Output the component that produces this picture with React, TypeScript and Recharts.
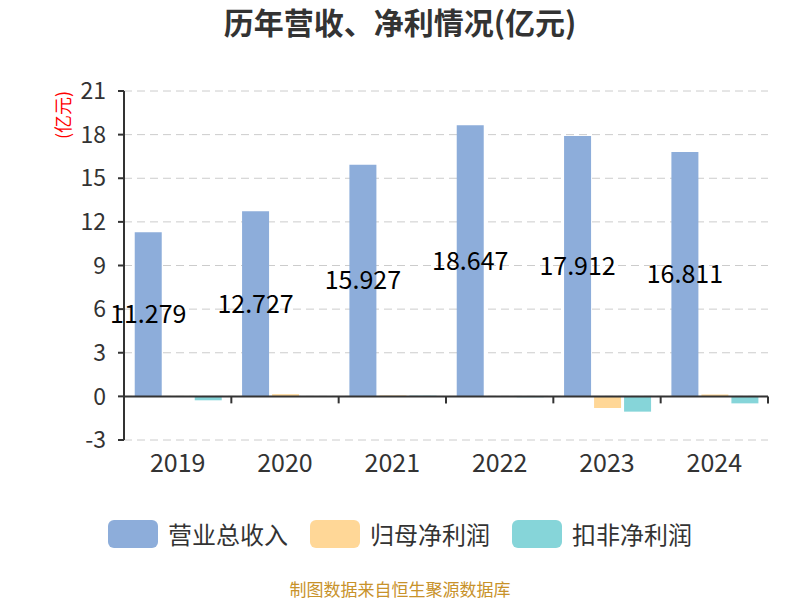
import { BarChart, Bar, XAxis, YAxis, CartesianGrid, ReferenceLine, LabelList } from "recharts";

const years = ["2019", "2020", "2021", "2022", "2023", "2024"];
const revenue = [11.279, 12.727, 15.927, 18.647, 17.912, 16.811];
const netProfit = [0.03, 0.15, 0.06, -0.03, -0.8, 0.13];
const deductedProfit = [-0.27, -0.03, 0.05, -0.06, -1.05, -0.48];
const yTicks = [-3, 0, 3, 6, 9, 12, 15, 18, 21];

const COLORS = { revenue: "#8DADDA", net: "#FFD797", deducted: "#86D5D9" };
const FONT = '"Noto Sans CJK SC", "Noto Sans", sans-serif';

const data = years.map((year, i) => ({
  year,
  revenue: revenue[i],
  net: netProfit[i],
  deducted: deductedProfit[i],
}));

const legendItems = [
  { name: "营业总收入", color: COLORS.revenue },
  { name: "归母净利润", color: COLORS.net },
  { name: "扣非净利润", color: COLORS.deducted },
];

// x axis sits on the zero line: draw the line plus a tick at each category boundary
function ZeroAxis(props: any) {
  const { x1, x2, y1 } = props;
  if (x1 == null || x2 == null || y1 == null) return null;
  const step = (x2 - x1) / years.length;
  return (
    <g>
      <line x1={x1} x2={x2} y1={y1} y2={y1} stroke="#333" strokeWidth={2} />
      {years.map((_, i) => {
        const x = x1 + step * (i + 1);
        return <line key={i} x1={x} x2={x} y1={y1} y2={y1 + 7} stroke="#333" strokeWidth={2} />;
      })}
    </g>
  );
}

export default function App() {
  return (
    <div
      style={{
        position: "absolute",
        left: 0,
        top: 0,
        width: 800,
        height: 600,
        background: "#fff",
        fontFamily: FONT,
        overflow: "hidden",
      }}
    >
      <div
        style={{
          position: "absolute",
          top: 1,
          left: 0,
          width: 800,
          textAlign: "center",
          fontSize: 30,
          lineHeight: "40px",
          fontWeight: "bold",
          color: "#333",
        }}
      >
        历年营收、净利情况(亿元)
      </div>
      <div
        style={{
          position: "absolute",
          left: 62,
          top: 115,
          transform: "translate(-50%, -50%) rotate(-90deg)",
          color: "#f00",
          fontSize: 18,
          lineHeight: "20px",
          whiteSpace: "nowrap",
        }}
      >
        (亿元)
      </div>

      <BarChart
        width={800}
        height={600}
        data={data}
        margin={{ top: 91, right: 32, bottom: 120, left: 64 }}
        barCategoryGap="10%"
        barGap={3}
        style={{ fontFamily: FONT }}
      >
        <CartesianGrid stroke="#ccc" strokeDasharray="8 5" vertical={false} />
        <XAxis
          dataKey="year"
          height={40}
          axisLine={false}
          tickLine={false}
          tickMargin={8}
          tick={{ fontSize: 25, fill: "#333" }}
        />
        <YAxis
          width={60}
          domain={[-3, 21]}
          ticks={yTicks}
          interval={0}
          tick={{ fontSize: 23, fill: "#333" }}
          tickLine={{ stroke: "#333", strokeWidth: 2 }}
          axisLine={{ stroke: "#333", strokeWidth: 2 }}
          tickSize={6}
          tickMargin={12}
        />
        <Bar dataKey="revenue" fill={COLORS.revenue} isAnimationActive={false}>
          <LabelList dataKey="revenue" position="center" fill="#000" fontSize={25} />
        </Bar>
        <Bar dataKey="net" fill={COLORS.net} isAnimationActive={false} />
        <Bar dataKey="deducted" fill={COLORS.deducted} isAnimationActive={false} />
        <ReferenceLine y={0} shape={ZeroAxis} />
      </BarChart>

      <div
        style={{
          position: "absolute",
          top: 517,
          left: 0,
          width: 800,
          display: "flex",
          justifyContent: "center",
          gap: 22,
        }}
      >
        {legendItems.map((item) => (
          <div key={item.name} style={{ display: "flex", alignItems: "center" }}>
            <div
              style={{
                width: 50,
                height: 28,
                borderRadius: 6,
                background: item.color,
                marginRight: 10,
              }}
            />
            <span style={{ fontSize: 24, lineHeight: "34px", color: "#333" }}>{item.name}</span>
          </div>
        ))}
      </div>

      <div
        style={{
          position: "absolute",
          top: 579,
          left: 0,
          width: 800,
          textAlign: "center",
          fontSize: 17,
          lineHeight: "20px",
          color: "#C8922A",
        }}
      >
        制图数据来自恒生聚源数据库
      </div>
    </div>
  );
}
